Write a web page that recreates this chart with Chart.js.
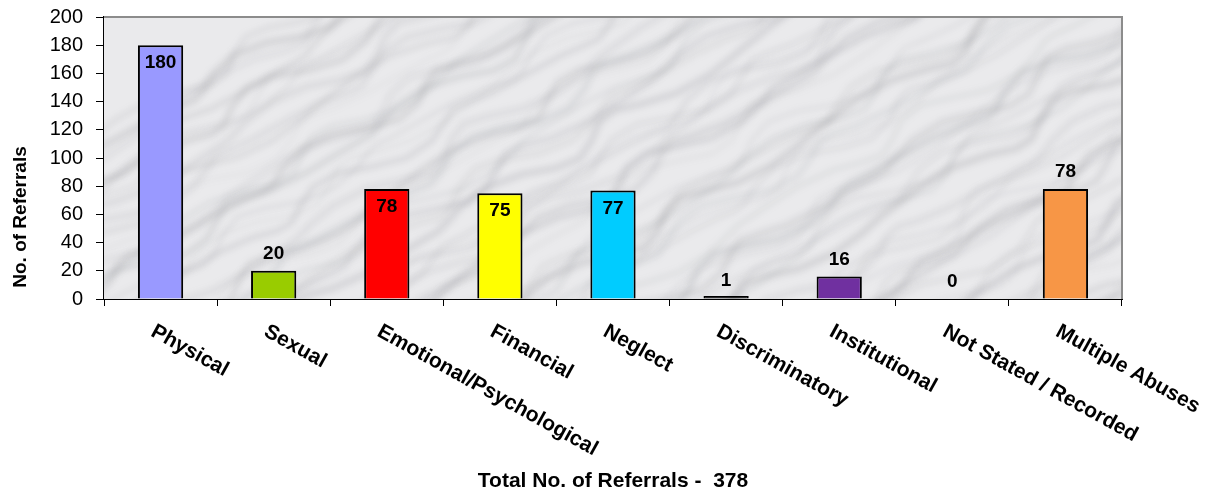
<!DOCTYPE html>
<html>
<head>
<meta charset="utf-8">
<script src="https://cdn.jsdelivr.net/npm/chart.js@4/dist/chart.umd.min.js"></script>
<style>
    html, body { margin: 0; padding: 0; background: #fff; }
    #wrap { width: 1224px; height: 494px; }
</style>
</head>
<body>
<div id="wrap"><canvas id="referralChart" width="1224" height="494"></canvas></div>
<script>
// Chart data
const categories = ['Physical', 'Sexual', 'Emotional/Psychological', 'Financial', 'Neglect',
    'Discriminatory', 'Institutional', 'Not Stated / Recorded', 'Multiple Abuses'];
const referrals = [180, 20, 78, 75, 77, 1, 16, 0, 78];
const barColours = ['#9999ff', '#99cc00', '#ff0000', '#ffff00', '#00ccff',
    '#000000', '#7030a0', 'rgba(0,0,0,0)', '#f79646'];
const labelInside = [true, false, true, true, true, false, false, false, false];
const yMin = 0, yMax = 200, yStep = 20;
const yTitle = 'No. of Referrals';
const totalTitle = 'Total No. of Referrals -  378';

const FONT = '"Liberation Sans", Arial, sans-serif';

// marble-ish plot background (soft diagonal veins, no randomness)
function paintMarble(ctx, a) {
    ctx.save();
    ctx.beginPath();
    ctx.rect(a.left, a.top, a.width, a.height);
    ctx.clip();
    ctx.fillStyle = '#eaeaec';
    ctx.fillRect(a.left, a.top, a.width, a.height);
    ctx.filter = 'blur(3px)';
    for (let k = 0; k < 80; k++) {
        let x = a.left - 320 + k * 20;
        let y = a.bottom + 20;
        ctx.beginPath();
        ctx.moveTo(x, y);
        for (let j = 0; j < 30; j++) {
            x += 22 + 14 * Math.sin(k * 1.7 + j * 0.9);
            y -= 13 + 7 * Math.cos(k * 0.8 + j * 1.3);
            ctx.lineTo(x, y);
        }
        const alpha = 0.08 + 0.1 * (1 + Math.sin(k * 2.3)) / 2;
        ctx.strokeStyle = 'rgba(105,107,115,' + alpha.toFixed(3) + ')';
        ctx.lineWidth = 2 + 5 * (1 + Math.sin(k * 1.1)) / 2;
        ctx.stroke();
    }
    ctx.restore();
}

const decorations = {
    id: 'decorations',
    beforeDatasetsDraw(chart) {
        paintMarble(chart.ctx, chart.chartArea);
    },
    afterDatasetsDraw(chart) {
        const ctx = chart.ctx;
        const meta = chart.getDatasetMeta(0);
        ctx.save();
        ctx.font = 'bold 19px ' + FONT;
        ctx.fillStyle = '#000';
        ctx.textAlign = 'center';
        ctx.textBaseline = 'middle';
        meta.data.forEach(function (bar, i) {
            const top = chart.scales.y.getPixelForValue(referrals[i]);
            const y = labelInside[i] ? top + 18 : top - 17;
            ctx.fillText(String(referrals[i]), bar.x, y);
        });
        ctx.restore();
    },
    afterDraw(chart) {
        const ctx = chart.ctx;
        const a = chart.chartArea;
        const xScale = chart.scales.x;
        ctx.save();
        // grey frame on top and right
        ctx.strokeStyle = '#8c8c8c';
        ctx.lineWidth = 2;
        ctx.beginPath();
        ctx.moveTo(a.left, a.top);
        ctx.lineTo(a.right, a.top);
        ctx.lineTo(a.right, a.bottom);
        ctx.stroke();

        // rotated category labels
        ctx.fillStyle = '#000';
        ctx.font = 'bold 21px ' + FONT;
        ctx.textAlign = 'left';
        ctx.textBaseline = 'top';
        categories.forEach(function (label, i) {
            const x = xScale.getPixelForValue(i);
            ctx.save();
            ctx.translate(x - 3, a.bottom + 22);
            ctx.rotate(29 * Math.PI / 180);
            ctx.fillText(label, 0, 0);
            ctx.restore();
        });

        // y axis title
        ctx.save();
        ctx.translate(21, 217);
        ctx.rotate(-Math.PI / 2);
        ctx.font = 'bold 19px ' + FONT;
        ctx.textAlign = 'center';
        ctx.textBaseline = 'middle';
        ctx.fillText(yTitle, 0, 0);
        ctx.restore();

        // bottom title
        ctx.font = 'bold 21px ' + FONT;
        ctx.textAlign = 'center';
        ctx.textBaseline = 'middle';
        ctx.fillText(totalTitle, (a.left + a.right) / 2, 481);
        ctx.restore();
    }
};

const ctx = document.getElementById('referralChart').getContext('2d');
const referralChart = new Chart(ctx, {
    type: 'bar',
    data: {
        labels: categories,
        datasets: [{
            data: referrals,
            backgroundColor: barColours,
            borderColor: referrals.map(v => v > 0 ? '#000' : 'rgba(0,0,0,0)'),
            borderWidth: 2,
            barPercentage: 0.4,
            categoryPercentage: 1.0,
            minBarLength: 3
        }]
    },
    options: {
        responsive: false,
        animation: false,
        devicePixelRatio: 1,
        layout: { padding: { top: 17, left: 0, right: 102, bottom: 0 } },
        plugins: {
            legend: { display: false },
            tooltip: { enabled: false }
        },
        scales: {
            x: {
                offset: true,
                grid: { offset: true, drawOnChartArea: false, drawTicks: true, tickLength: 7, color: '#000', lineWidth: 1 },
                border: { display: true, color: '#000', width: 2 },
                ticks: { display: false },
                afterFit: function (scale) { scale.height = 195; }
            },
            y: {
                min: yMin,
                max: yMax,
                ticks: {
                    stepSize: yStep,
                    color: '#000',
                    padding: 13,
                    font: { family: FONT, size: 20 }
                },
                grid: { drawOnChartArea: false, drawTicks: true, tickLength: 8, color: '#000' },
                border: { display: true, color: '#000', width: 2 },
                afterFit: function (scale) {
                    scale.width = 104;
                    scale.paddingTop = 0;
                    scale.paddingBottom = 0;
                }
            }
        }
    },
    plugins: [decorations]
});
</script>
</body>
</html>
